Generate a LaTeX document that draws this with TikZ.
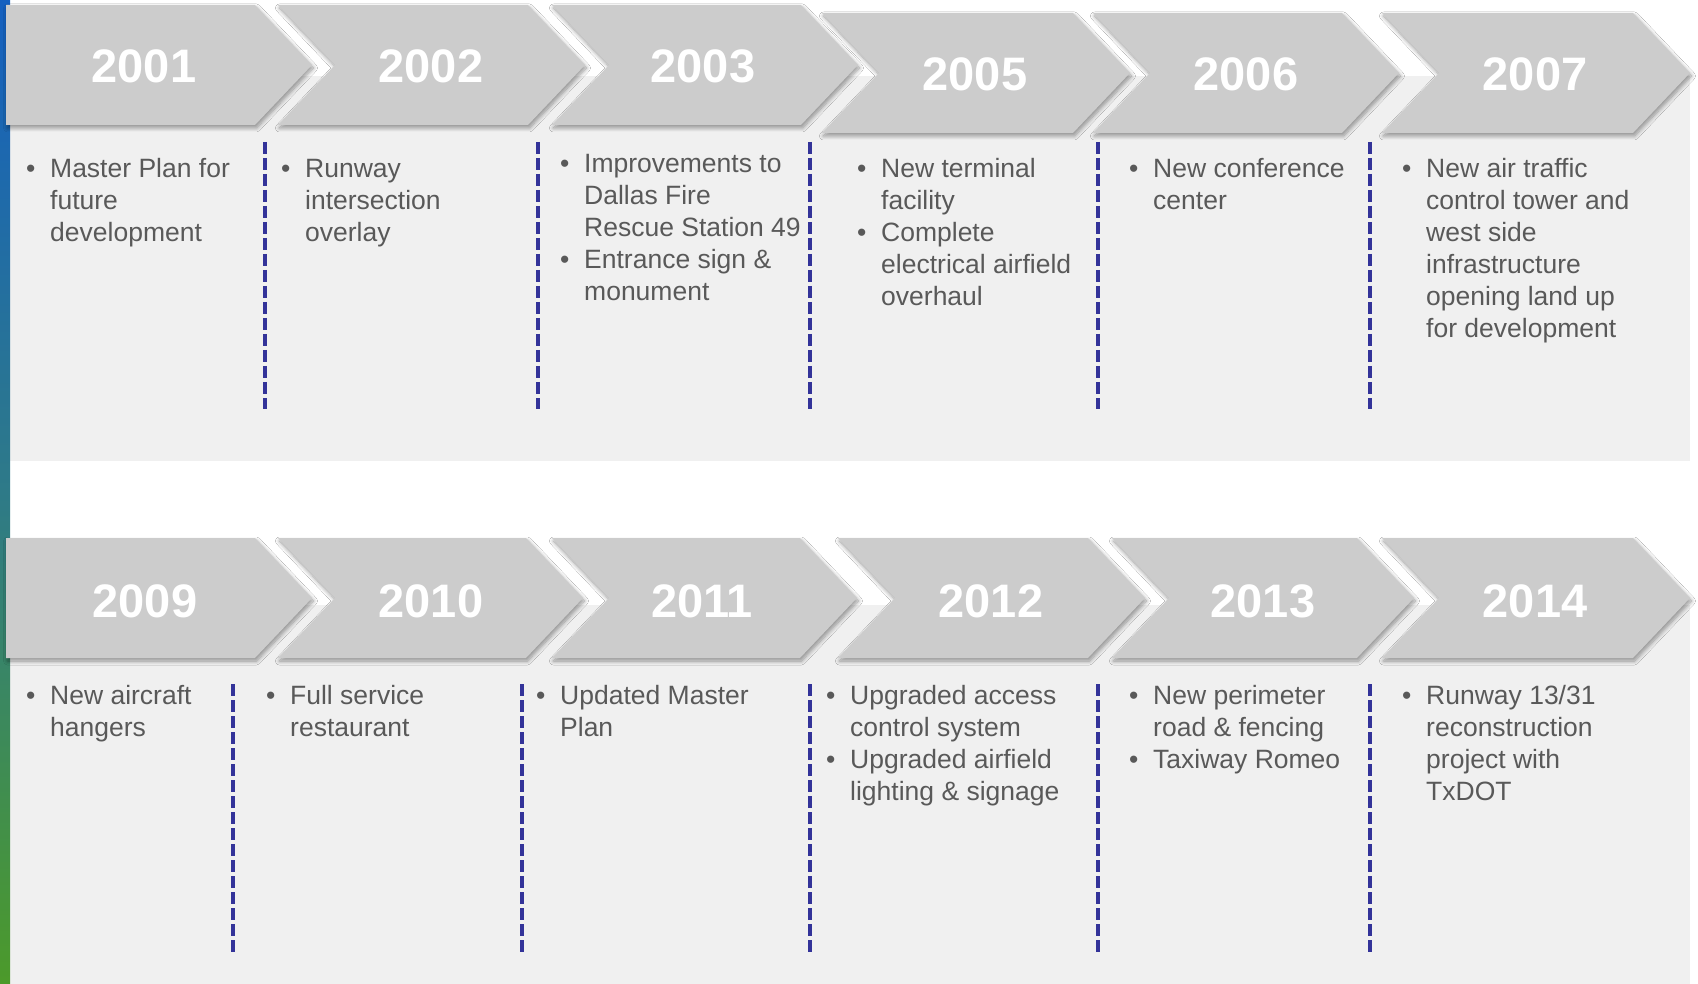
\documentclass[tikz,border=0pt]{standalone}
\usepackage{fontspec}
\setmainfont{Liberation Sans}
\usetikzlibrary{shadows.blur}
\definecolor{chevgray}{HTML}{CCCCCC}
\definecolor{panelgray}{HTML}{F0F0F0}
\definecolor{txtgray}{HTML}{595959}
\definecolor{sepblue}{HTML}{333399}
\definecolor{bartop}{HTML}{1560C0}
\definecolor{barmid}{HTML}{2E7A88}
\definecolor{barbot}{HTML}{4C9A2A}
\newcommand\bu{\makebox[24pt][l]{\textbullet}}
\newcommand\ind{\hspace*{24pt}}
\newcommand\chevN[3]{% notched chevron: left, right corner, top
  \fill[chev] (#1,#3) -- (#2,#3) -- ({#2+57},{#3+60}) -- (#2,{#3+120}) -- (#1,{#3+120}) -- ({#1+57},{#3+60}) -- cycle;}
\newcommand\chevF[3]{% flat-left chevron
  \fill[chev] (#1,#3) -- (#2,#3) -- ({#2+57},{#3+60}) -- (#2,{#3+120}) -- (#1,{#3+120}) -- cycle;}
\begin{document}
\begin{tikzpicture}[x=1pt,y=-1pt,
  chev/.style={fill=chevgray, blur shadow={shadow xshift=1.5pt, shadow yshift=-3pt, shadow blur radius=4pt, shadow blur steps=8, shadow opacity=40}},
  year/.style={anchor=base, inner sep=0pt, text=white, font=\fontsize{47}{56}\selectfont\bfseries},
  txt/.style={anchor=base west, inner sep=0pt, text=txtgray, font=\fontsize{26.5}{32}\selectfont},
  sep/.style={draw=sepblue, line width=4pt, dash pattern=on 12pt off 4pt}]
\useasboundingbox (0,0) rectangle (1698,984);
\fill[white] (0,0) rectangle (1698,984);
% panels
\fill[panelgray] (10,76) rectangle (1690,461);
\fill[panelgray] (10,605) rectangle (1690,984);
% left gradient bar
\shade[top color=bartop, bottom color=barbot, middle color=barmid] (0,0) rectangle (10,984);
% row 1 chevrons
\chevF{6}{255}{5}
\chevN{278}{528}{5}
\chevN{552}{801}{5}
\chevN{822}{1073}{13}
\chevN{1093}{1342}{13}
\chevN{1382}{1633}{13}
% row 2 chevrons
\chevF{6}{255}{538}
\chevN{278}{526}{538}
\chevN{552}{800}{538}
\chevN{838}{1088}{538}
\chevN{1112}{1357}{538}
\chevN{1382}{1633}{538}
% years
\node[year] (y2001) at (144,83) {2001};
\node[year] (y2002) at (431,83) {2002};
\node[year] (y2003) at (703,83) {2003};
\node[year] (y2005) at (975,91) {2005};
\node[year] (y2006) at (1246,91) {2006};
\node[year] (y2007) at (1535,91) {2007};
\node[year] (y2009) at (145,617) {2009};
\node[year] (y2010) at (431,617) {2010};
\node[year] (y2011) at (702,617) {2011};
\node[year] (y2012) at (991,617) {2012};
\node[year] (y2013) at (1263,617) {2013};
\node[year] (y2014) at (1535,617) {2014};
% separators
\foreach \x [count=\i] in {265,538,810,1098,1370} {
  \coordinate (sa\i) at (\x,142); \coordinate (sb\i) at (\x,409);
  \draw[sep] (sa\i) -- (sb\i);
}
\foreach \x [count=\i] in {233,522,810,1098,1370} {
  \coordinate (sc\i) at (\x,684); \coordinate (sd\i) at (\x,953);
  \draw[sep] (sc\i) -- (sd\i);
}
% row 1 texts
\node[txt] (t2001) at (26,178) {\begin{tabular}[t]{@{}l@{}}\bu Master Plan for\\ \ind future\\ \ind development\end{tabular}};
\node[txt] (t2002) at (281,178) {\begin{tabular}[t]{@{}l@{}}\bu Runway\\ \ind intersection\\ \ind overlay\end{tabular}};
\node[txt] (t2003) at (560,173) {\begin{tabular}[t]{@{}l@{}}\bu Improvements to\\ \ind Dallas Fire\\ \ind Rescue Station 49\\ \bu Entrance sign \&\\ \ind monument\end{tabular}};
\node[txt] (t2005) at (857,178) {\begin{tabular}[t]{@{}l@{}}\bu New terminal\\ \ind facility\\ \bu Complete\\ \ind electrical airfield\\ \ind overhaul\end{tabular}};
\node[txt] (t2006) at (1129,178) {\begin{tabular}[t]{@{}l@{}}\bu New conference\\ \ind center\end{tabular}};
\node[txt] (t2007) at (1402,178) {\begin{tabular}[t]{@{}l@{}}\bu New air traffic\\ \ind control tower and\\ \ind west side\\ \ind infrastructure\\ \ind opening land up\\ \ind for development\end{tabular}};
% row 2 texts
\node[txt] (t2009) at (26,704) {\begin{tabular}[t]{@{}l@{}}\bu New aircraft\\ \ind hangers\end{tabular}};
\node[txt] (t2010) at (266,704) {\begin{tabular}[t]{@{}l@{}}\bu Full service\\ \ind restaurant\end{tabular}};
\node[txt] (t2011) at (536,704) {\begin{tabular}[t]{@{}l@{}}\bu Updated Master\\ \ind Plan\end{tabular}};
\node[txt] (t2012) at (826,704) {\begin{tabular}[t]{@{}l@{}}\bu Upgraded access\\ \ind control system\\ \bu Upgraded airfield\\ \ind lighting \& signage\end{tabular}};
\node[txt] (t2013) at (1129,704) {\begin{tabular}[t]{@{}l@{}}\bu New perimeter\\ \ind road \& fencing\\ \bu Taxiway Romeo\end{tabular}};
\node[txt] (t2014) at (1402,704) {\begin{tabular}[t]{@{}l@{}}\bu Runway 13/31\\ \ind reconstruction\\ \ind project with\\ \ind TxDOT\end{tabular}};
\end{tikzpicture}
\end{document}
